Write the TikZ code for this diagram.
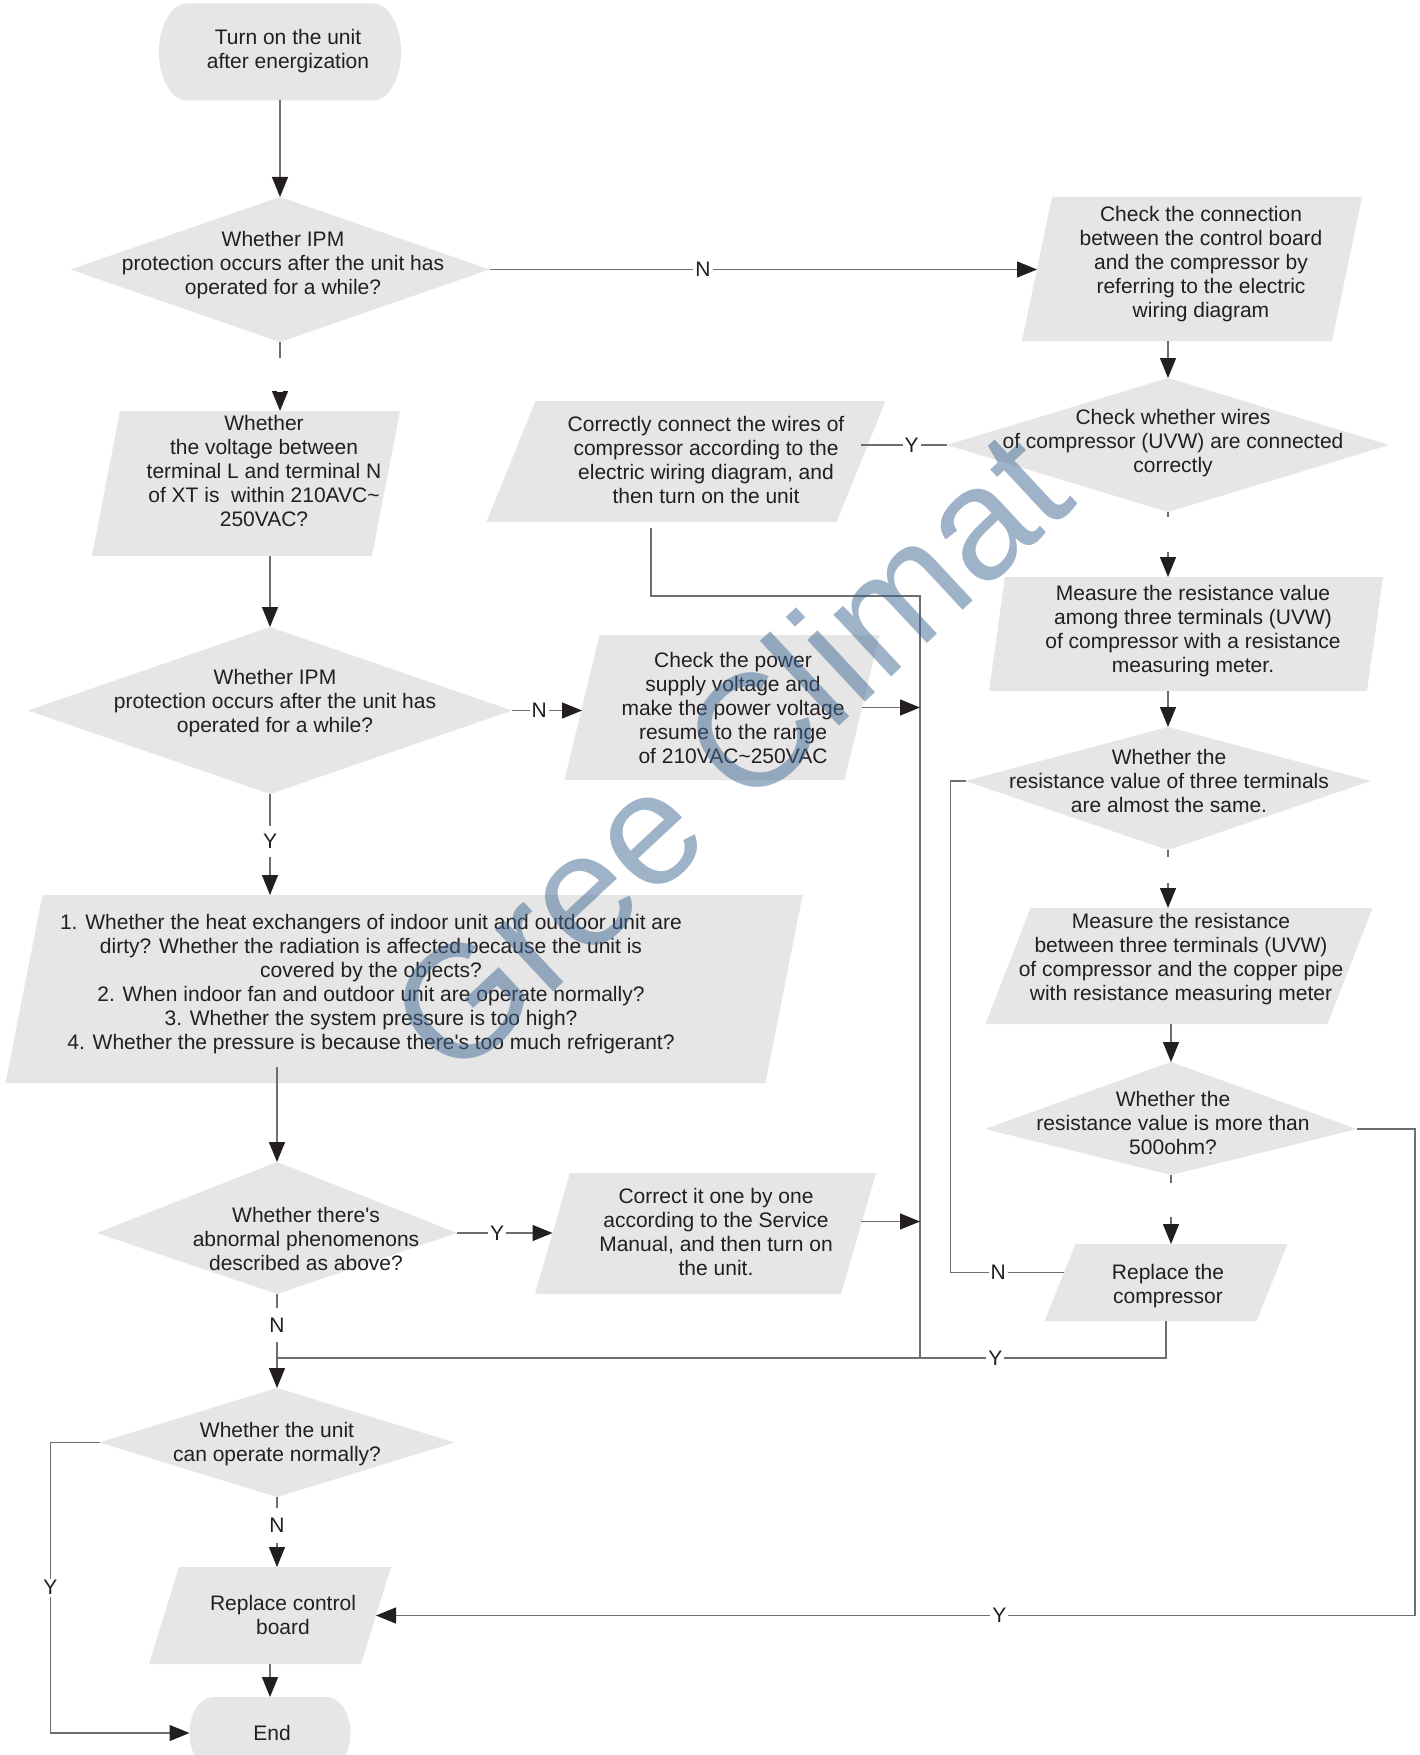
\documentclass[tikz,border=0pt]{standalone}
\usepackage{fontspec}
\setmainfont{Liberation Sans}
\usetikzlibrary{arrows.meta,calc}
\pgfdeclarelayer{background}
\pgfsetlayers{background,main}
\definecolor{boxfill}{HTML}{E6E6E7}
\definecolor{txtcol}{HTML}{231F20}
\definecolor{linecol}{HTML}{6D6E71}
\definecolor{wmcol}{HTML}{3F6793}
\newcommand\sq{\XeTeXglyph\XeTeXcharglyph"0027\relax}
\tikzset{
 txt/.style={align=center, text=txtcol, inner sep=0pt, font=\fontsize{21}{24}\selectfont},
 body/.style={rectangle, inner sep=0pt, outer sep=0pt},
 conn/.style={draw=linecol, line width=1.3pt},
 arr/.style={conn, -{Triangle[length=20pt,width=16pt,color=txtcol]}},
 lbl/.style={fill=white, text=txtcol, inner sep=2pt, font=\fontsize{21}{24}\selectfont},
 gaplbl/.style={lbl, minimum height=#1},
 gapnode/.style={fill=white, inner sep=0pt, minimum width=6pt, minimum height=#1},
}
\newcommand\parafill[2]{%
 \fill[boxfill] ($(#1.north west)+(#2/2,0)$) -- ($(#1.north east)+(#2/2,0)$) -- ($(#1.south east)-(#2/2,0)$) -- ($(#1.south west)-(#2/2,0)$) -- cycle;}
\newcommand\kitefill[2]{%
 \coordinate (#1-e) at ($(#1.east)+(0,#2)$);
 \coordinate (#1-w) at ($(#1.west)+(0,#2)$);
 \fill[boxfill] (#1.north) -- (#1-e) -- (#1.south) -- (#1-w) -- cycle;}
\newcommand\termfill[3]{%
 \fill[boxfill] ($(#1.north west)+(#2,0)$) -- ($(#1.north east)-(#2,0)$) arc[start angle=90,end angle=-90,x radius=#2,y radius=#3] -- ($(#1.south west)+(#2,0)$) arc[start angle=270,end angle=90,x radius=#2,y radius=#3] -- cycle;}
\begin{document}
\begin{tikzpicture}[x=1pt,y=-1pt]
\useasboundingbox (0,0) rectangle (1420,1755);
% ---- shapes (bodies) ----
\node[body, minimum width=242pt, minimum height=97pt] (start) at (280,52) {};
\node[txt] (startt) at (288,51) {Turn on the unit\\after energization};

\node[body, minimum width=419pt, minimum height=145pt] (d1) at (280,269.5) {};
\node[txt] (d1t) at (283,265) {Whether IPM\\protection occurs after the unit has\\operated for a while?};

\node[body, minimum width=310pt, minimum height=144pt] (p1) at (1192,269) {};
\node[txt] (p1t) at (1201,264) {Check the connection\\between the control board\\and the compressor by\\referring to the electric\\wiring diagram};

\node[body, minimum width=442pt, minimum height=134pt] (d2) at (1168,445) {};
\node[txt] (d2t) at (1173,443) {Check whether wires\\of compressor (UVW) are connected\\correctly};

\node[body, minimum width=350pt, minimum height=121pt] (p2) at (686,461.5) {};
\node[txt] (p2t) at (706,460) {Correctly connect the wires of\\compressor according to the\\electric wiring diagram, and\\then turn on the unit};

\node[body, minimum width=280pt, minimum height=145pt] (p3) at (246,483.5) {};
\node[txt] (p3t) at (264,471) {Whether\\the voltage between\\terminal L and terminal N\\of XT is\ \ within 210AVC{\char"007E}\\250VAC?};

\node[body, minimum width=484pt, minimum height=167pt] (d3) at (270,710.5) {};
\node[txt] (d3t) at (275,703) {Whether IPM\\protection occurs after the unit has\\operated for a while?};

\node[body, minimum width=280pt, minimum height=145pt] (p4) at (722,707.5) {};
\node[txt] (p4t) at (733,708) {Check the power\\supply voltage and\\make the power voltage\\resume to the range\\of 210VAC{\char"007E}250VAC};

\node[body, minimum width=760pt, minimum height=188pt] (p5) at (404,989) {};
\node[txt] (p5t) at (371,984) {1. Whether the heat exchangers of indoor unit and outdoor unit are\\dirty? Whether the radiation is affected because the unit is\\covered by the objects?\\2. When indoor fan and outdoor unit are operate normally?\\3. Whether the system pressure is too high?\\4. Whether the pressure is because there\sq s too much refrigerant?};

\node[body, minimum width=360pt, minimum height=132pt] (d4) at (277,1228) {};
\node[txt] (d4t) at (306,1239) {Whether there\sq s\\abnormal phenomenons\\described as above?};

\node[body, minimum width=306pt, minimum height=121pt] (p6) at (705.5,1233.5) {};
\node[txt] (p6t) at (716,1232) {Correct it one by one\\according to the Service\\Manual, and then turn on\\the unit.};

\node[body, minimum width=355pt, minimum height=109pt] (d5) at (277,1442.5) {};
\node[txt] (d5t) at (277,1444) {Whether the unit\\can operate normally?};

\node[body, minimum width=212pt, minimum height=97pt] (p7) at (270,1615.5) {};
\node[txt] (p7t) at (283,1615) {Replace control\\board};

\node[body, minimum width=161pt, minimum height=72pt] (end) at (270,1733) {};
\node[txt] (endt) at (272,1733) {End};

\node[body, minimum width=378pt, minimum height=114pt] (p8) at (1186,634) {};
\node[txt] (p8t) at (1193,631) {Measure the resistance value\\among three terminals (UVW)\\of compressor with a resistance\\measuring meter.};

\node[body, minimum width=405pt, minimum height=123pt] (d6) at (1168,788.5) {};
\node[txt] (d6t) at (1169,781) {Whether the\\resistance value of three terminals\\are almost the same.};

\node[body, minimum width=342pt, minimum height=116pt] (p9) at (1179,966) {};
\node[txt] (p9t) at (1181,959) {Measure the resistance\\between three terminals (UVW)\\of compressor and the copper pipe\\with resistance measuring meter};

\node[body, minimum width=372pt, minimum height=113pt] (d7) at (1171,1118.5) {};
\node[txt] (d7t) at (1173,1123) {Whether the\\resistance value is more than\\500ohm?};

\node[body, minimum width=212pt, minimum height=77pt] (p10) at (1166,1282.5) {};
\node[txt] (p10t) at (1168,1286) {Replace the\\compressor};

% ---- fills ----
\begin{pgfonlayer}{background}
\fill[white] (0,0) rectangle (1420,1755);
\termfill{start}{28pt}{48.5pt}
\termfill{end}{24pt}{36pt}
\kitefill{d1}{0}
\kitefill{d2}{0}
\kitefill{d3}{0}
\kitefill{d4}{5}
\kitefill{d5}{0}
\kitefill{d6}{-7.5}
\kitefill{d7}{10.5}
\parafill{p1}{30}
\parafill{p2}{49}
\parafill{p3}{28}
\parafill{p4}{35}
\parafill{p5}{37}
\parafill{p6}{35}
\parafill{p7}{30}
\parafill{p8}{16}
\parafill{p9}{45}
\parafill{p10}{31}
\end{pgfonlayer}

% ---- connectors ----
\coordinate (vt) at (920,596);
\coordinate (vb) at (920,1358);
\coordinate (jn) at (277,1358);
\coordinate (p10w) at ($(p10.west)+(4,-10)$);

\draw[arr] (start.south) -- (d1.north);
\draw[arr] (d1-e) -- node[lbl,pos=0.39]{N} (d1-e -| p1.west);
\draw[arr] (d1.south) -- node[gapnode=34pt,pos=0.48]{} (d1.south |- p3.north);

\draw[arr] (d2.north |- p1.south) -- (d2.north);
\draw[conn] (d2-w) -- node[lbl,pos=0.41]{Y} (d2-w -| p2.east);
\draw[arr] (d2.south) -- node[gapnode=35pt,pos=0.35]{} (d2.south |- p8.north);
\draw[arr] (d6.north |- p8.south) -- (d6.north);
\draw[arr] (d6.south) -- node[gapnode=26pt,pos=0.34]{} (d6.south |- p9.north);
\draw[arr] (d7.north |- p9.south) -- (d7.north);
\draw[arr] (d7.south) -- node[gapnode=34pt,pos=0.36]{} (d7.south |- p10.north);
\draw[conn] (d6-w) -- ++(-15,0) |- node[lbl,pos=0.71]{N} (p10w);
\draw[conn] (p10.south) |- node[lbl,pos=0.596]{Y} (jn);
\draw[arr] (d7-e) -- ++(58,0) |- node[lbl,pos=0.7]{Y} (p7.east);

\draw[conn] ($(p2.south)+(-35,6)$) |- (vt) -- (vb);
\draw[arr] (p4.east) -- (p4.east -| vt);
\coordinate (p6e) at ($(p6.east)+(2,-12)$);
\draw[arr] (p6e) -- (p6e -| vt);

\draw[arr] (d3.north |- p3.south) -- (d3.north);
\draw[arr] (d3-e) -- node[lbl,pos=0.39]{N} (d3-e -| p4.west);
\draw[arr] (d3.south) -- node[gaplbl=31pt,pos=0.47]{Y} (d3.south |- p5.north);
\draw[arr] ($(d4.north |- p5.south)+(0,-16)$) -- (d4.north);
\draw[arr] (d4-e) -- node[lbl,pos=0.42]{Y} (d4-e -| p6.west);
\draw[arr] (d4.south) -- node[gaplbl=34pt,pos=0.33]{N} (d4.south |- d5.north);
\draw[arr] (d5.south) -- node[gaplbl=35pt,pos=0.4]{N} (d5.south |- p7.north);
\draw[arr] (end.north |- p7.south) -- (end.north);
\draw[arr] (d5-w) -- ++(-49,0) |- node[lbl,pos=0.25]{Y} (end.west);

% ---- watermark ----
\node[rotate=43, text=wmcol, text opacity=0.5, inner sep=0pt, font=\fontsize{160}{160}\selectfont] (wm) at (728,752) {Gree Climat};
\end{tikzpicture}
\end{document}
